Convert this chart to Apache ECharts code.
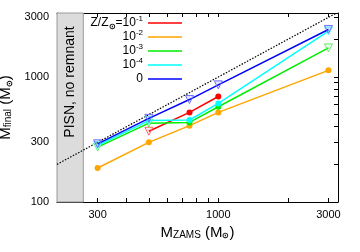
<!DOCTYPE html>
<html><head><meta charset="utf-8">
<script src="https://cdn.jsdelivr.net/npm/echarts@6/dist/echarts.min.js"></script>
<style>html,body{margin:0;padding:0;background:#fff}#c{width:360px;height:252px}</style>
</head><body><div id="c"></div>
<script>
// ---- data ----
const mZams = [300, 500, 750, 1000, 3000];
const mRed = [null, 368, 521, 698, null];      // Z/Zsun = 1e-1
const mOrange = [187, 300, 408, 521, 1130];    // 1e-2
const mGreen = [275, 427, 433, 578, 1710];     // 1e-3
const mCyan = [283, 448, 453, 614, 2330];      // 1e-4
const mBlue = [292, 467, 660, 865, 2400];      // 0
// 1 = lower limit (open triangle), 0 = final value (filled dot)
const limRed = [0, 1, 0, 0, 0];
const limOrange = [0, 0, 0, 0, 0];
const limGreen = [1, 1, 0, 0, 1];
const limCyan = [1, 1, 0, 0, 1];
const limBlue = [1, 1, 1, 1, 1];
const zExp = ['-1', '-2', '-3', '-4', null];
const xTicks = [300, 400, 500, 600, 700, 800, 900, 1000, 2000, 3000];
const xLabels = [300, 1000, 3000];
const yTicks = [100, 200, 300, 400, 500, 600, 700, 800, 900, 1000, 2000, 3000];
const yLabels = [100, 300, 1000, 3000];
const xRange = [200, 3300];
const yRange = [100, 3250];
const pisnMax = 260;
const diag = [200, 3250];

// ---- chart ----
const lg = Math.log10;
const FONT = '"Liberation Sans", Arial, Helvetica, sans-serif';
const colors = ['#ff0000', '#ffa500', '#00ee00', '#00ffff', '#0000ff'];
const triBorder = ['#ff6666', '#ffc055', '#66ee66', '#66ffff', '#7070ff'];
const triFill = ['rgba(255,0,0,0.08)', 'rgba(255,165,0,0.08)', 'rgba(0,238,0,0.08)', 'rgba(0,255,255,0.1)', 'rgba(0,0,255,0.1)'];
const ys = [mRed, mOrange, mGreen, mCyan, mBlue];
const lims = [limRed, limOrange, limGreen, limCyan, limBlue];

const series = ys.map((arr, si) => ({
  type: 'line',
  z: 3 + si,
  silent: true,
  showSymbol: true,
  lineStyle: { color: colors[si], width: 1.5 },
  itemStyle: { color: colors[si] },
  emphasis: { disabled: true },
  data: mZams.map((x, i) => arr[i] == null ? null : (lims[si][i] ? {
    value: [lg(x), lg(arr[i])], symbol: 'triangle', symbolRotate: 180, symbolSize: 8,
    itemStyle: { color: triFill[si], borderColor: triBorder[si], borderWidth: 1 }
  } : {
    value: [lg(x), lg(arr[i])], symbol: 'circle', symbolSize: 6,
    itemStyle: { color: colors[si] }
  })).filter(d => d)
}));

series.unshift({
  type: 'line', z: 2, silent: true, symbol: 'none',
  lineStyle: { color: '#000', width: 1.2, type: [1.5, 1.5] },
  data: [[lg(diag[0]), lg(diag[0])], [lg(diag[1]), lg(diag[1])]],
  markArea: {
    silent: true,
    itemStyle: { color: '#dcdcdc', borderColor: '#999', borderWidth: 1 },
    data: [[{ xAxis: lg(xRange[0]), yAxis: lg(yRange[0]) }, { xAxis: lg(pisnMax), yAxis: lg(yRange[1]) }]]
  }
});

const tickCommon = (vals) => ({ show: true, inside: true, length: 4, customValues: vals.map(lg), lineStyle: { color: '#000', width: 1 } });
const axLine = { show: true, onZero: false, lineStyle: { color: '#000', width: 1 } };
const fmt = v => String(Math.round(Math.pow(10, v)));

const nameRich = {
  m: { fontSize: 15, fontFamily: FONT, color: '#000' },
  s: { fontSize: 10, fontFamily: FONT, color: '#000', verticalAlign: 'bottom' },
  ss: { fontSize: 8, fontFamily: FONT, color: '#000', verticalAlign: 'bottom', fontWeight: 'bold' }
};

const legendRich = {
  a: { fontSize: 12, fontFamily: FONT, color: '#000', lineHeight: 16 },
  sub: { fontSize: 8, fontFamily: FONT, color: '#000', verticalAlign: 'bottom', lineHeight: 12, fontWeight: 'bold' },
  sup: { fontSize: 8, fontFamily: FONT, color: '#000', verticalAlign: 'top', lineHeight: 8 }
};
const graphics = [];
zExp.forEach((e, i) => {
  const y = 23 + i * 14;
  let txt;
  if (e === null) txt = '{a|0}';
  else if (i === 0) txt = '{a|Z/Z}{sub|⊙}{a|=10}{sup|' + e + '}';
  else txt = '{a|10}{sup|' + e + '}';
  graphics.push({ type: 'text', x: 143, y: y, z: 100,
    style: { text: txt, rich: legendRich, align: 'right', verticalAlign: 'middle' } });
  graphics.push({ type: 'line', z: 100, shape: { x1: 148, y1: y, x2: 182, y2: y },
    style: { stroke: colors[i], lineWidth: 1.5 } });
});
graphics.push({ type: 'text', x: 70, y: 82, rotation: Math.PI / 2, z: 100,
  style: { text: 'PISN, no remnant', fontSize: 14, fontFamily: FONT, fill: '#000', align: 'center', verticalAlign: 'middle' } });

const chart = echarts.init(document.getElementById('c'), null, { renderer: 'canvas' });
chart.setOption({
  animation: false,
  backgroundColor: '#fff',
  grid: { left: 57, right: 22, top: 13, bottom: 50, outerBoundsMode: 'none' },
  xAxis: [{
    type: 'value', position: 'bottom', min: lg(xRange[0]), max: lg(xRange[1]),
    axisLine: axLine, axisTick: tickCommon(xTicks), splitLine: { show: false },
    axisLabel: { customValues: xLabels.map(lg), formatter: fmt, fontSize: 11, fontFamily: FONT, color: '#000', margin: 7 },
    name: '{m|M}{s|ZAMS}{m| (M}{ss|⊙}{m|)}', nameLocation: 'middle', nameGap: 19,
    nameTextStyle: { rich: nameRich }
  }, {
    type: 'value', position: 'top', min: lg(xRange[0]), max: lg(xRange[1]),
    axisLine: axLine, axisTick: tickCommon(xTicks), splitLine: { show: false }, axisLabel: { show: false }
  }],
  yAxis: [{
    type: 'value', position: 'left', min: lg(yRange[0]), max: lg(yRange[1]),
    axisLine: axLine, axisTick: tickCommon(yTicks), splitLine: { show: false },
    axisLabel: { customValues: yLabels.map(lg), formatter: fmt, fontSize: 11, fontFamily: FONT, color: '#000', margin: 8 },
    name: '{m|M}{s|final}{m| (M}{ss|⊙}{m|)}', nameLocation: 'middle', nameGap: 36,
    nameTextStyle: { rich: nameRich }
  }, {
    type: 'value', position: 'right', min: lg(yRange[0]), max: lg(yRange[1]),
    axisLine: axLine, axisTick: tickCommon(yTicks), splitLine: { show: false }, axisLabel: { show: false }
  }],
  series: series,
  graphic: graphics
});
</script></body></html>
